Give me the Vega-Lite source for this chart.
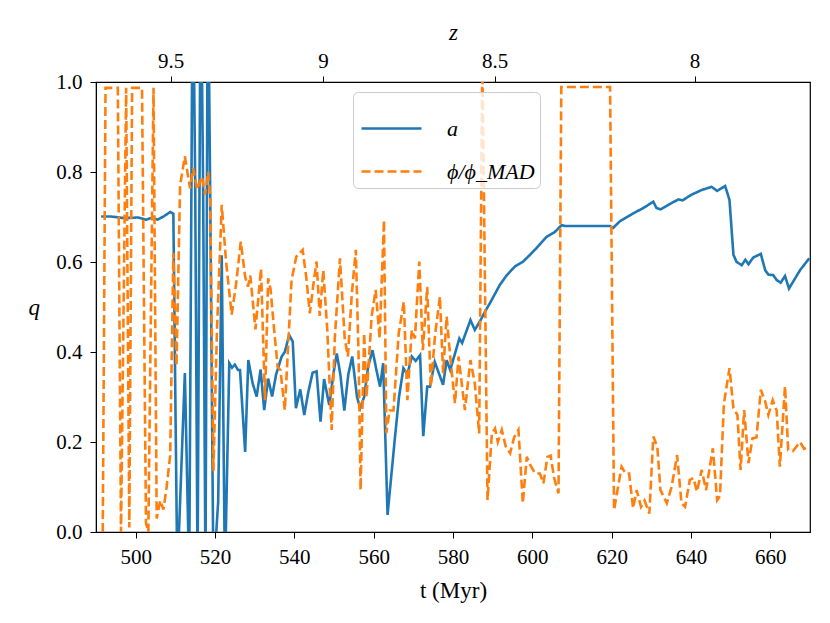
{
  "$schema": "https://vega.github.io/schema/vega-lite/v6.json",
  "width": 714,
  "height": 450,
  "autosize": "none",
  "padding": {"left": 96, "top": 82, "right": 20, "bottom": 91},
  "background": "white",
  "config": {
    "view": {"stroke": "black", "strokeWidth": 1.2},
    "font": "Liberation Serif",
    "axis": {
      "grid": false,
      "domainColor": "black",
      "tickColor": "black",
      "labelColor": "black",
      "titleColor": "black",
      "labelFont": "Liberation Serif",
      "titleFont": "Liberation Serif",
      "labelFontSize": 21,
      "titleFontSize": 23,
      "titleFontWeight": "normal",
      "tickSize": 6,
      "labelPadding": 6
    }
  },
  "datasets": {
    "series": [
      {"t": 491.3, "q": 0.701, "s": "a"},
      {"t": 493.8, "q": 0.701, "s": "a"},
      {"t": 496.7, "q": 0.698, "s": "a"},
      {"t": 499.0, "q": 0.698, "s": "a"},
      {"t": 500.5, "q": 0.699, "s": "a"},
      {"t": 502.6, "q": 0.694, "s": "a"},
      {"t": 504.0, "q": 0.698, "s": "a"},
      {"t": 505.5, "q": 0.694, "s": "a"},
      {"t": 507.0, "q": 0.701, "s": "a"},
      {"t": 508.7, "q": 0.711, "s": "a"},
      {"t": 509.5, "q": 0.707, "s": "a"},
      {"t": 510.5, "q": -0.1, "s": "a"},
      {"t": 512.4, "q": 0.353, "s": "a"},
      {"t": 513.5, "q": -0.1, "s": "a"},
      {"t": 514.4, "q": 1.3, "s": "a"},
      {"t": 515.0, "q": 0.78, "s": "a"},
      {"t": 515.6, "q": -0.1, "s": "a"},
      {"t": 516.4, "q": 1.3, "s": "a"},
      {"t": 517.0, "q": 0.77, "s": "a"},
      {"t": 517.6, "q": -0.1, "s": "a"},
      {"t": 518.2, "q": 1.3, "s": "a"},
      {"t": 518.8, "q": 0.74, "s": "a"},
      {"t": 519.6, "q": -0.1, "s": "a"},
      {"t": 520.8, "q": 0.067, "s": "a"},
      {"t": 521.7, "q": 0.615, "s": "a"},
      {"t": 522.5, "q": -0.1, "s": "a"},
      {"t": 523.6, "q": 0.375, "s": "a"},
      {"t": 524.3, "q": 0.365, "s": "a"},
      {"t": 525.0, "q": 0.372, "s": "a"},
      {"t": 525.8, "q": 0.36, "s": "a"},
      {"t": 526.3, "q": 0.36, "s": "a"},
      {"t": 527.6, "q": 0.178, "s": "a"},
      {"t": 528.4, "q": 0.382, "s": "a"},
      {"t": 529.5, "q": 0.33, "s": "a"},
      {"t": 530.5, "q": 0.301, "s": "a"},
      {"t": 531.5, "q": 0.361, "s": "a"},
      {"t": 532.4, "q": 0.271, "s": "a"},
      {"t": 533.4, "q": 0.341, "s": "a"},
      {"t": 534.4, "q": 0.301, "s": "a"},
      {"t": 535.4, "q": 0.35, "s": "a"},
      {"t": 536.8, "q": 0.39, "s": "a"},
      {"t": 537.6, "q": 0.4, "s": "a"},
      {"t": 538.7, "q": 0.438, "s": "a"},
      {"t": 539.6, "q": 0.423, "s": "a"},
      {"t": 540.4, "q": 0.275, "s": "a"},
      {"t": 541.5, "q": 0.317, "s": "a"},
      {"t": 542.5, "q": 0.26, "s": "a"},
      {"t": 543.5, "q": 0.31, "s": "a"},
      {"t": 544.6, "q": 0.354, "s": "a"},
      {"t": 545.6, "q": 0.357, "s": "a"},
      {"t": 546.6, "q": 0.245, "s": "a"},
      {"t": 547.5, "q": 0.34, "s": "a"},
      {"t": 548.8, "q": 0.282, "s": "a"},
      {"t": 550.0, "q": 0.36, "s": "a"},
      {"t": 550.7, "q": 0.397, "s": "a"},
      {"t": 551.6, "q": 0.35, "s": "a"},
      {"t": 552.6, "q": 0.27, "s": "a"},
      {"t": 553.6, "q": 0.35, "s": "a"},
      {"t": 554.6, "q": 0.39, "s": "a"},
      {"t": 555.8, "q": 0.3, "s": "a"},
      {"t": 556.6, "q": 0.275, "s": "a"},
      {"t": 557.6, "q": 0.3, "s": "a"},
      {"t": 558.6, "q": 0.367, "s": "a"},
      {"t": 559.7, "q": 0.404, "s": "a"},
      {"t": 560.7, "q": 0.36, "s": "a"},
      {"t": 561.6, "q": 0.323, "s": "a"},
      {"t": 562.4, "q": 0.375, "s": "a"},
      {"t": 563.5, "q": 0.038, "s": "a"},
      {"t": 565.3, "q": 0.204, "s": "a"},
      {"t": 566.4, "q": 0.301, "s": "a"},
      {"t": 567.5, "q": 0.364, "s": "a"},
      {"t": 568.5, "q": 0.35, "s": "a"},
      {"t": 569.6, "q": 0.39, "s": "a"},
      {"t": 570.6, "q": 0.38, "s": "a"},
      {"t": 571.7, "q": 0.393, "s": "a"},
      {"t": 572.5, "q": 0.213, "s": "a"},
      {"t": 573.5, "q": 0.323, "s": "a"},
      {"t": 574.2, "q": 0.323, "s": "a"},
      {"t": 575.4, "q": 0.378, "s": "a"},
      {"t": 577.5, "q": 0.327, "s": "a"},
      {"t": 578.4, "q": 0.382, "s": "a"},
      {"t": 579.3, "q": 0.36, "s": "a"},
      {"t": 581.6, "q": 0.43, "s": "a"},
      {"t": 582.3, "q": 0.42, "s": "a"},
      {"t": 584.4, "q": 0.471, "s": "a"},
      {"t": 585.5, "q": 0.449, "s": "a"},
      {"t": 586.9, "q": 0.47, "s": "a"},
      {"t": 588.1, "q": 0.49, "s": "a"},
      {"t": 589.4, "q": 0.51, "s": "a"},
      {"t": 591.8, "q": 0.549, "s": "a"},
      {"t": 593.5, "q": 0.57, "s": "a"},
      {"t": 595.6, "q": 0.59, "s": "a"},
      {"t": 597.7, "q": 0.601, "s": "a"},
      {"t": 600.2, "q": 0.623, "s": "a"},
      {"t": 603.6, "q": 0.656, "s": "a"},
      {"t": 605.7, "q": 0.667, "s": "a"},
      {"t": 607.4, "q": 0.682, "s": "a"},
      {"t": 608.2, "q": 0.68, "s": "a"},
      {"t": 619.6, "q": 0.68, "s": "a"},
      {"t": 620.4, "q": 0.676, "s": "a"},
      {"t": 622.0, "q": 0.69, "s": "a"},
      {"t": 625.4, "q": 0.708, "s": "a"},
      {"t": 628.0, "q": 0.72, "s": "a"},
      {"t": 630.5, "q": 0.734, "s": "a"},
      {"t": 631.3, "q": 0.72, "s": "a"},
      {"t": 632.3, "q": 0.717, "s": "a"},
      {"t": 634.5, "q": 0.728, "s": "a"},
      {"t": 636.8, "q": 0.739, "s": "a"},
      {"t": 637.9, "q": 0.737, "s": "a"},
      {"t": 640.0, "q": 0.749, "s": "a"},
      {"t": 642.7, "q": 0.76, "s": "a"},
      {"t": 645.2, "q": 0.767, "s": "a"},
      {"t": 646.6, "q": 0.758, "s": "a"},
      {"t": 648.6, "q": 0.769, "s": "a"},
      {"t": 649.7, "q": 0.738, "s": "a"},
      {"t": 650.7, "q": 0.616, "s": "a"},
      {"t": 651.5, "q": 0.6, "s": "a"},
      {"t": 652.8, "q": 0.593, "s": "a"},
      {"t": 653.7, "q": 0.605, "s": "a"},
      {"t": 654.5, "q": 0.595, "s": "a"},
      {"t": 655.7, "q": 0.61, "s": "a"},
      {"t": 657.6, "q": 0.618, "s": "a"},
      {"t": 658.7, "q": 0.582, "s": "a"},
      {"t": 659.5, "q": 0.572, "s": "a"},
      {"t": 660.7, "q": 0.571, "s": "a"},
      {"t": 661.6, "q": 0.56, "s": "a"},
      {"t": 662.6, "q": 0.554, "s": "a"},
      {"t": 663.7, "q": 0.569, "s": "a"},
      {"t": 664.7, "q": 0.541, "s": "a"},
      {"t": 667.5, "q": 0.582, "s": "a"},
      {"t": 669.8, "q": 0.608, "s": "a"},

      {"t": 491.7, "q": 0.0, "s": "phi"},
      {"t": 492.4, "q": 0.987, "s": "phi"},
      {"t": 495.5, "q": 0.987, "s": "phi"},
      {"t": 496.3, "q": 0.0, "s": "phi"},
      {"t": 497.6, "q": 0.987, "s": "phi"},
      {"t": 498.4, "q": 0.01, "s": "phi"},
      {"t": 499.1, "q": 0.987, "s": "phi"},
      {"t": 501.6, "q": 0.987, "s": "phi"},
      {"t": 502.6, "q": 0.02, "s": "phi"},
      {"t": 503.2, "q": 0.0, "s": "phi"},
      {"t": 504.5, "q": 0.987, "s": "phi"},
      {"t": 505.3, "q": 0.03, "s": "phi"},
      {"t": 506.2, "q": 0.07, "s": "phi"},
      {"t": 507.0, "q": 0.05, "s": "phi"},
      {"t": 507.8, "q": 0.1, "s": "phi"},
      {"t": 508.7, "q": 0.17, "s": "phi"},
      {"t": 509.5, "q": 0.62, "s": "phi"},
      {"t": 510.3, "q": 0.37, "s": "phi"},
      {"t": 511.2, "q": 0.77, "s": "phi"},
      {"t": 512.4, "q": 0.835, "s": "phi"},
      {"t": 513.7, "q": 0.764, "s": "phi"},
      {"t": 514.5, "q": 0.809, "s": "phi"},
      {"t": 515.5, "q": 0.761, "s": "phi"},
      {"t": 516.7, "q": 0.79, "s": "phi"},
      {"t": 517.5, "q": 0.75, "s": "phi"},
      {"t": 518.3, "q": 0.8, "s": "phi"},
      {"t": 518.8, "q": 0.74, "s": "phi"},
      {"t": 519.6, "q": 0.135, "s": "phi"},
      {"t": 520.5, "q": 0.45, "s": "phi"},
      {"t": 521.7, "q": 0.727, "s": "phi"},
      {"t": 522.8, "q": 0.6, "s": "phi"},
      {"t": 524.2, "q": 0.483, "s": "phi"},
      {"t": 525.3, "q": 0.55, "s": "phi"},
      {"t": 526.5, "q": 0.645, "s": "phi"},
      {"t": 527.6, "q": 0.567, "s": "phi"},
      {"t": 528.3, "q": 0.545, "s": "phi"},
      {"t": 528.9, "q": 0.57, "s": "phi"},
      {"t": 530.2, "q": 0.45, "s": "phi"},
      {"t": 531.6, "q": 0.585, "s": "phi"},
      {"t": 532.6, "q": 0.293, "s": "phi"},
      {"t": 533.4, "q": 0.564, "s": "phi"},
      {"t": 534.0, "q": 0.54, "s": "phi"},
      {"t": 535.0, "q": 0.44, "s": "phi"},
      {"t": 535.8, "q": 0.367, "s": "phi"},
      {"t": 536.5, "q": 0.36, "s": "phi"},
      {"t": 537.6, "q": 0.271, "s": "phi"},
      {"t": 539.3, "q": 0.56, "s": "phi"},
      {"t": 540.5, "q": 0.612, "s": "phi"},
      {"t": 542.1, "q": 0.627, "s": "phi"},
      {"t": 543.0, "q": 0.567, "s": "phi"},
      {"t": 543.9, "q": 0.486, "s": "phi"},
      {"t": 544.8, "q": 0.55, "s": "phi"},
      {"t": 545.6, "q": 0.601, "s": "phi"},
      {"t": 546.4, "q": 0.48, "s": "phi"},
      {"t": 547.3, "q": 0.582, "s": "phi"},
      {"t": 548.3, "q": 0.45, "s": "phi"},
      {"t": 549.4, "q": 0.227, "s": "phi"},
      {"t": 550.2, "q": 0.43, "s": "phi"},
      {"t": 551.5, "q": 0.608, "s": "phi"},
      {"t": 552.7, "q": 0.43, "s": "phi"},
      {"t": 553.5, "q": 0.39, "s": "phi"},
      {"t": 554.5, "q": 0.53, "s": "phi"},
      {"t": 555.5, "q": 0.627, "s": "phi"},
      {"t": 556.2, "q": 0.39, "s": "phi"},
      {"t": 556.7, "q": 0.093, "s": "phi"},
      {"t": 557.6, "q": 0.442, "s": "phi"},
      {"t": 558.2, "q": 0.3, "s": "phi"},
      {"t": 559.5, "q": 0.48, "s": "phi"},
      {"t": 560.5, "q": 0.538, "s": "phi"},
      {"t": 561.5, "q": 0.43, "s": "phi"},
      {"t": 562.6, "q": 0.693, "s": "phi"},
      {"t": 563.2, "q": 0.22, "s": "phi"},
      {"t": 564.0, "q": 0.27, "s": "phi"},
      {"t": 565.0, "q": 0.27, "s": "phi"},
      {"t": 566.3, "q": 0.44, "s": "phi"},
      {"t": 567.6, "q": 0.512, "s": "phi"},
      {"t": 568.5, "q": 0.293, "s": "phi"},
      {"t": 569.6, "q": 0.449, "s": "phi"},
      {"t": 570.4, "q": 0.43, "s": "phi"},
      {"t": 571.5, "q": 0.601, "s": "phi"},
      {"t": 572.4, "q": 0.404, "s": "phi"},
      {"t": 573.5, "q": 0.545, "s": "phi"},
      {"t": 574.4, "q": 0.323, "s": "phi"},
      {"t": 575.5, "q": 0.44, "s": "phi"},
      {"t": 576.7, "q": 0.523, "s": "phi"},
      {"t": 577.5, "q": 0.353, "s": "phi"},
      {"t": 578.4, "q": 0.479, "s": "phi"},
      {"t": 579.3, "q": 0.39, "s": "phi"},
      {"t": 580.5, "q": 0.286, "s": "phi"},
      {"t": 581.4, "q": 0.39, "s": "phi"},
      {"t": 583.0, "q": 0.271, "s": "phi"},
      {"t": 584.4, "q": 0.382, "s": "phi"},
      {"t": 585.5, "q": 0.33, "s": "phi"},
      {"t": 586.6, "q": 0.219, "s": "phi"},
      {"t": 587.4, "q": 1.05, "s": "phi"},
      {"t": 588.7, "q": 0.071, "s": "phi"},
      {"t": 589.8, "q": 0.219, "s": "phi"},
      {"t": 590.6, "q": 0.23, "s": "phi"},
      {"t": 591.3, "q": 0.2, "s": "phi"},
      {"t": 592.3, "q": 0.227, "s": "phi"},
      {"t": 593.3, "q": 0.19, "s": "phi"},
      {"t": 594.4, "q": 0.175, "s": "phi"},
      {"t": 595.4, "q": 0.21, "s": "phi"},
      {"t": 596.5, "q": 0.227, "s": "phi"},
      {"t": 597.6, "q": 0.064, "s": "phi"},
      {"t": 598.6, "q": 0.167, "s": "phi"},
      {"t": 599.4, "q": 0.15, "s": "phi"},
      {"t": 600.7, "q": 0.13, "s": "phi"},
      {"t": 601.9, "q": 0.13, "s": "phi"},
      {"t": 602.8, "q": 0.108, "s": "phi"},
      {"t": 603.8, "q": 0.167, "s": "phi"},
      {"t": 604.6, "q": 0.17, "s": "phi"},
      {"t": 605.5, "q": 0.12, "s": "phi"},
      {"t": 606.6, "q": 0.086, "s": "phi"},
      {"t": 607.3, "q": 0.989, "s": "phi"},
      {"t": 619.6, "q": 0.989, "s": "phi"},
      {"t": 620.6, "q": 0.049, "s": "phi"},
      {"t": 622.5, "q": 0.145, "s": "phi"},
      {"t": 623.5, "q": 0.13, "s": "phi"},
      {"t": 624.4, "q": 0.13, "s": "phi"},
      {"t": 625.4, "q": 0.053, "s": "phi"},
      {"t": 626.3, "q": 0.093, "s": "phi"},
      {"t": 627.4, "q": 0.056, "s": "phi"},
      {"t": 628.3, "q": 0.07, "s": "phi"},
      {"t": 629.5, "q": 0.041, "s": "phi"},
      {"t": 630.5, "q": 0.212, "s": "phi"},
      {"t": 631.5, "q": 0.19, "s": "phi"},
      {"t": 632.3, "q": 0.093, "s": "phi"},
      {"t": 633.9, "q": 0.064, "s": "phi"},
      {"t": 635.1, "q": 0.1, "s": "phi"},
      {"t": 636.5, "q": 0.171, "s": "phi"},
      {"t": 637.6, "q": 0.064, "s": "phi"},
      {"t": 638.5, "q": 0.056, "s": "phi"},
      {"t": 639.7, "q": 0.116, "s": "phi"},
      {"t": 640.6, "q": 0.12, "s": "phi"},
      {"t": 641.5, "q": 0.09, "s": "phi"},
      {"t": 642.7, "q": 0.138, "s": "phi"},
      {"t": 643.8, "q": 0.093, "s": "phi"},
      {"t": 645.5, "q": 0.186, "s": "phi"},
      {"t": 646.6, "q": 0.071, "s": "phi"},
      {"t": 647.3, "q": 0.08, "s": "phi"},
      {"t": 648.3, "q": 0.286, "s": "phi"},
      {"t": 649.7, "q": 0.364, "s": "phi"},
      {"t": 650.7, "q": 0.275, "s": "phi"},
      {"t": 651.7, "q": 0.26, "s": "phi"},
      {"t": 652.5, "q": 0.138, "s": "phi"},
      {"t": 653.4, "q": 0.271, "s": "phi"},
      {"t": 654.5, "q": 0.153, "s": "phi"},
      {"t": 655.5, "q": 0.208, "s": "phi"},
      {"t": 656.5, "q": 0.21, "s": "phi"},
      {"t": 657.6, "q": 0.316, "s": "phi"},
      {"t": 658.7, "q": 0.29, "s": "phi"},
      {"t": 659.5, "q": 0.26, "s": "phi"},
      {"t": 660.6, "q": 0.293, "s": "phi"},
      {"t": 661.6, "q": 0.27, "s": "phi"},
      {"t": 662.4, "q": 0.145, "s": "phi"},
      {"t": 663.7, "q": 0.324, "s": "phi"},
      {"t": 664.5, "q": 0.182, "s": "phi"},
      {"t": 665.7, "q": 0.18, "s": "phi"},
      {"t": 667.5, "q": 0.2, "s": "phi"},
      {"t": 668.5, "q": 0.185, "s": "phi"},
      {"t": 669.8, "q": 0.19, "s": "phi"}
    ],
    "zticks": [
      {"t": 508.8, "z": "9.5"},
      {"t": 547.2, "z": "9"},
      {"t": 590.5, "z": "8.5"},
      {"t": 640.9, "z": "8"}
    ]
  },
  "layer": [
    {
      "data": {"name": "series"},
      "mark": {"type": "line", "clip": true, "strokeWidth": 2.6},
      "encoding": {
        "x": {
          "field": "t",
          "type": "quantitative",
          "scale": {"domain": [490, 670], "nice": false, "zero": false},
          "axis": {
            "orient": "bottom",
            "values": [500, 520, 540, 560, 580, 600, 620, 640, 660],
            "format": "d",
            "title": "t (Myr)",
            "labelPadding": 8,
            "titlePadding": 12
          }
        },
        "y": {
          "field": "q",
          "type": "quantitative",
          "scale": {"domain": [0, 1], "nice": false},
          "axis": {
            "values": [0, 0.2, 0.4, 0.6, 0.8, 1.0],
            "format": ".1f",
            "labelPadding": 8,
            "title": "q",
            "titleFontStyle": "italic",
            "titleAngle": 0,
            "titleBaseline": "middle",
            "titleAlign": "center",
            "titlePadding": 22
          }
        },
        "color": {
          "field": "s",
          "type": "nominal",
          "scale": {"domain": ["a", "phi"], "range": ["#1f77b4", "#ff7f0e"]},
          "legend": {
            "title": null,
            "orient": "none",
            "legendX": 257,
            "legendY": 10,
            "padding": 5,
            "strokeColor": "#cccccc",
            "fillColor": "rgba(255,255,255,0.8)",
            "cornerRadius": 5,
            "symbolType": "stroke",
            "symbolSize": 3600,
            "symbolStrokeWidth": 2.6,
            "symbolOffset": 2,
            "labelFont": "Liberation Serif",
            "labelFontSize": 22,
            "labelFontStyle": "italic",
            "labelColor": "black",
            "labelOffset": 24,
            "rowPadding": -3,
            "labelExpr": "datum.label == 'a' ? 'a' : 'ϕ/ϕ_MAD'"
          }
        },
        "strokeDash": {
          "field": "s",
          "type": "nominal",
          "scale": {"domain": ["a", "phi"], "range": [[1, 0], [9, 4]]},
          "legend": null
        },
        "order": {"field": "t", "type": "quantitative"}
      }
    },
    {
      "data": {"name": "zticks"},
      "mark": {"type": "point", "opacity": 0},
      "encoding": {
        "x": {
          "field": "t",
          "type": "quantitative",
          "axis": {
            "orient": "top",
            "values": [508.8, 547.2, 590.5, 640.9],
            "labelExpr": "datum.value < 520 ? '9.5' : datum.value < 560 ? '9' : datum.value < 600 ? '8.5' : '8'",
            "title": "z",
            "titleFontStyle": "italic",
            "labelPadding": 5,
            "titlePadding": 6
          }
        }
      }
    }
  ],
  "resolve": {"axis": {"x": "independent"}}
}
